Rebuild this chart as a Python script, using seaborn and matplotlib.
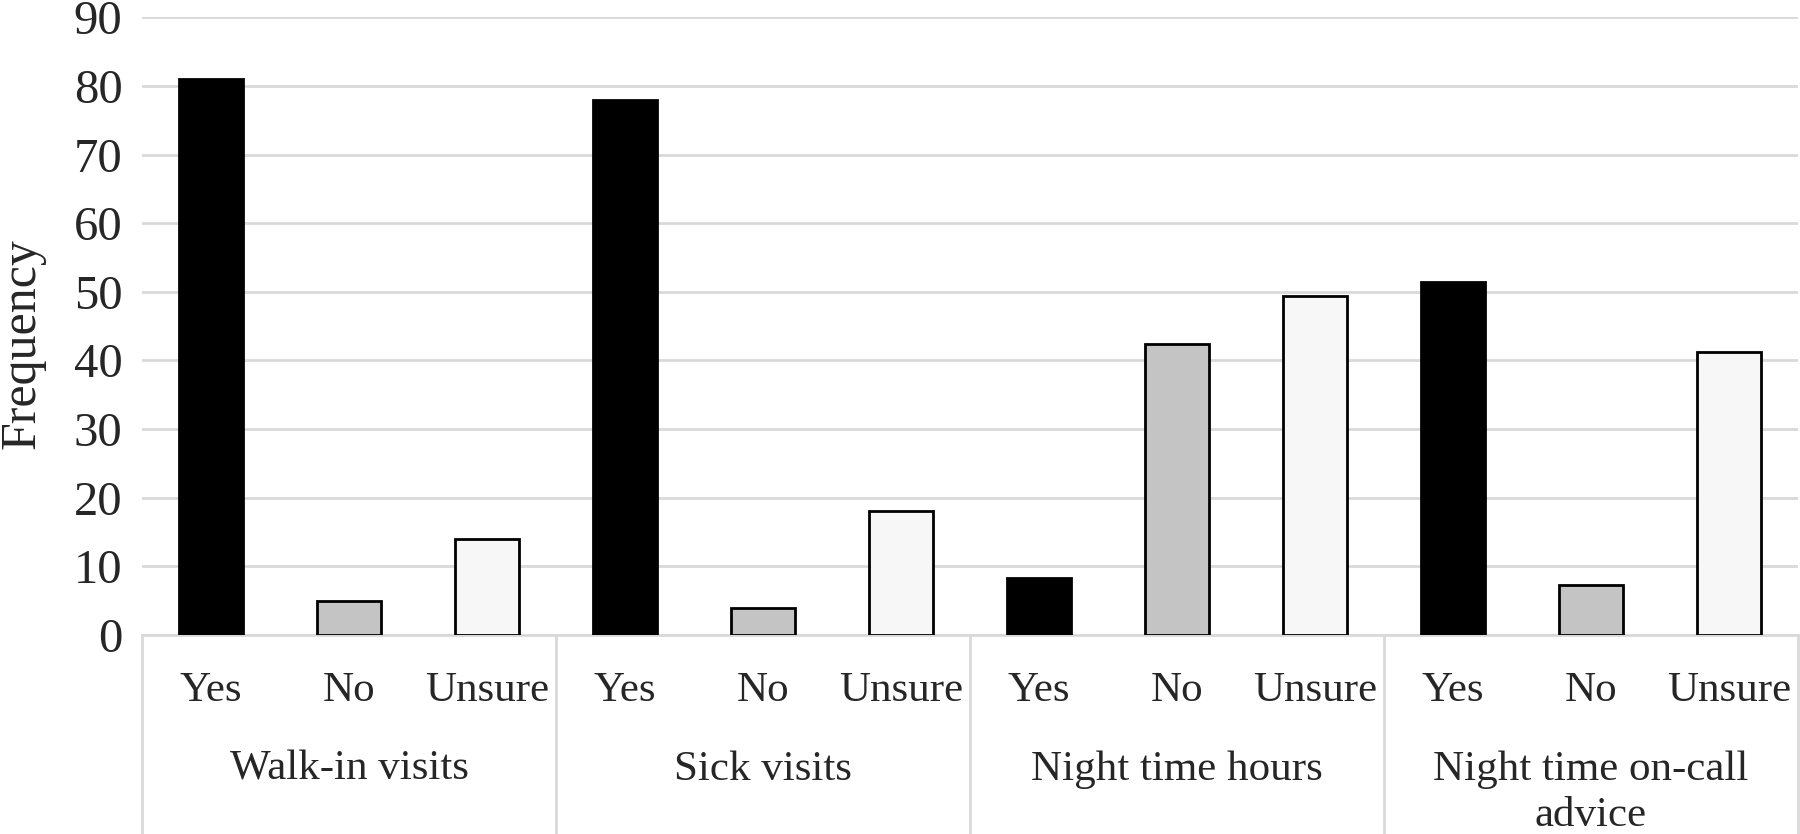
import matplotlib
matplotlib.use("Agg")
import matplotlib.pyplot as plt
import matplotlib.transforms as mtransforms
import numpy as np
import pandas as pd
import seaborn as sns

groups = ["Walk-in visits", "Sick visits", "Night time hours", "Night time on-call\nadvice"]
responses = ["Yes", "No", "Unsure"]
yes_vals = [81, 78, 8.3, 51.4]
no_vals = [5, 4, 42.4, 7.3]
unsure_vals = [14, 18, 49.4, 41.3]
yticks = list(range(0, 100, 10))

colors = {"Yes": "#000000", "No": "#c4c4c4", "Unsure": "#f7f7f7"}

rows = []
for g, y, n, u in zip(groups, yes_vals, no_vals, unsure_vals):
    for r, v in zip(responses, [y, n, u]):
        rows.append({"slot": g + "|" + r, "group": g, "response": r, "freq": v})
df = pd.DataFrame(rows)

sns.set_style("white")
plt.rcParams["font.family"] = ["Liberation Serif", "DejaVu Serif"]

W, H, DPI = 1800, 834, 100
fig = plt.figure(figsize=(W / DPI, H / DPI), dpi=DPI)
ax = fig.add_axes([142 / W, 1 - 635 / H, (1798 - 142) / W, (635 - 17.3) / H])

sns.barplot(
    data=df, x="slot", y="freq", hue="response", order=df["slot"].tolist(),
    hue_order=responses, palette=colors, dodge=False, width=0.46,
    edgecolor="black", linewidth=2, legend=False, ax=ax, zorder=3,
)

ax.set_ylim(0, 90)
ax.set_xlim(-0.5, len(df) - 0.5)
ax.set_yticks(yticks)
ax.set_yticklabels([str(t) for t in yticks], fontsize=35)
ax.tick_params(axis="y", length=0, pad=14)
ax.set_xticks([])
ax.set_xlabel("")
ax.set_ylabel("")
ax.yaxis.grid(True, color="#d9d9d9", linewidth=2, zorder=0)
ax.set_axisbelow(True)
for side in ["left", "right", "top"]:
    ax.spines[side].set_visible(False)
ax.spines["bottom"].set_color("#d9d9d9")
ax.spines["bottom"].set_linewidth(2)

# category labels below the axis
trans = mtransforms.blended_transform_factory(ax.transData, fig.transFigure)
for i, row in df.iterrows():
    ax.text(i, 1 - 701 / H, row["response"], transform=trans, ha="center",
            va="baseline", fontsize=31, clip_on=False)
for k, g in enumerate(groups):
    lines = g.split("\n")
    ax.text(3 * k + 1, 1 - 780 / H, lines[0], transform=trans, ha="center",
            va="baseline", fontsize=31, clip_on=False)
    if len(lines) > 1:
        ax.text(3 * k + 1, 1 - 826 / H, lines[1], transform=trans, ha="center",
                va="baseline", fontsize=31, clip_on=False)
for k in range(len(groups) + 1):
    x = 3 * k - 0.5
    ax.plot([x, x], [1 - 635 / H, 0], transform=trans, color="#d9d9d9",
            linewidth=2, clip_on=False)

fig.text(22 / W, 1 - 344 / H, "Frequency", rotation=90, ha="center", va="center",
         fontsize=36)

fig.savefig("out.png", dpi=DPI)
